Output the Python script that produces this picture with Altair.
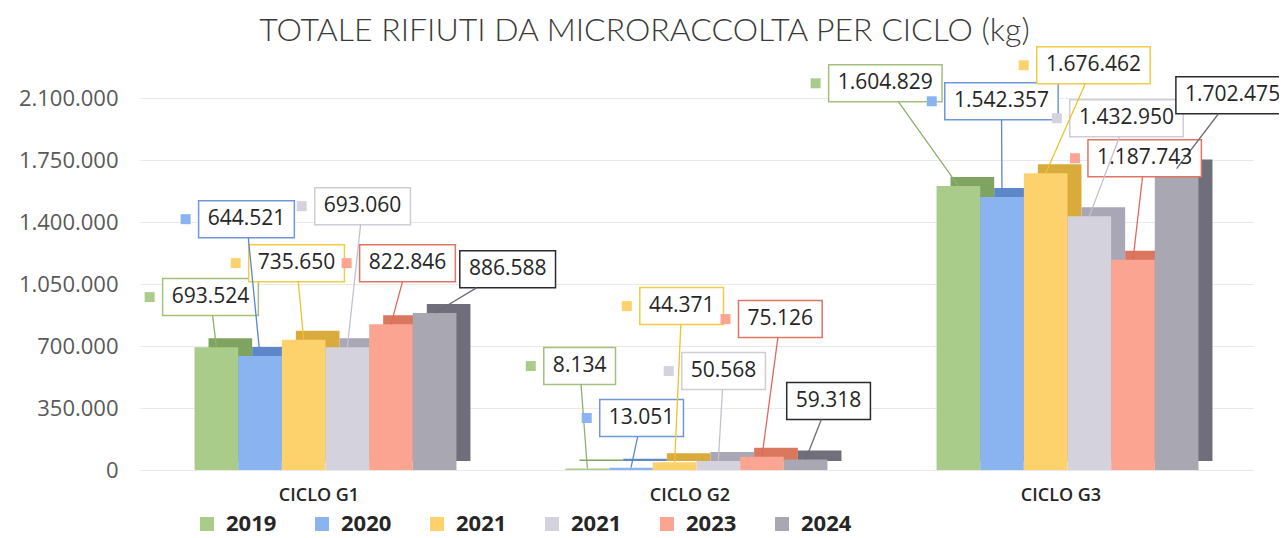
import altair as alt
import pandas as pd

# ---------------- data ----------------
cycles = ["CICLO G1", "CICLO G2", "CICLO G3"]
years = ["2019", "2020", "2021", "2021 ", "2023", "2024"]
g1_values = [693524, 644521, 735650, 693060, 822846, 886588]
g2_values = [8134, 13051, 44371, 50568, 75126, 59318]
g3_values = [1604829, 1542357, 1676462, 1432950, 1187743, 1702475]
y_ticks = [0, 350000, 700000, 1050000, 1400000, 1750000, 2100000]

# callout label centres (x in cycle units, y in kg), as placed in the original
label_x = [[0.190, 0.287, 0.422, 0.600, 0.721, 0.991],
           [1.185, 1.352, 1.460, 1.573, 1.726, 1.856],
           [2.009, 2.322, 2.570, 2.659, 2.708, 2.945]]
label_y = [[976600, 1416900, 1168500, 1490300, 1168500, 1134600],
           [587100, 293500, 925800, 558900, 852400, 389500],
           [2184600, 2083000, 2286200, 1987000, 1761200, 2116900]]

# ---------------- styles ----------------
fill_colors = ["#a9cc8a", "#8ab4f0", "#fdd26c", "#d4d2dc", "#fba491", "#a9a8b2"]
depth_colors = ["#7fa360", "#5d87c9", "#d9aa3c", "#a9a7b5", "#d9775f", "#6f6e7a"]
border_colors = ["#a3c07c", "#6f97da", "#f1cc45", "#cfcdd6", "#e07566", "#2b2b2b"]
leader_colors = ["#8fb06c", "#5b86d0", "#efc32a", "#c3c1cd", "#e06a5a", "#6b6b73"]

W, H, YMAX = 1113, 393, 2220000
PXU = W / 3.0          # pixels per cycle unit
PXV = H / YMAX         # pixels per kg
PAD_OUTER = 0.147
BAR_W = 0.706 / 6
FS = 21
BOX_H = 37


def fmt(v):
    return f"{v:,}".replace(",", ".")


rows = []
all_values = [g1_values, g2_values, g3_values]
for gi, cyc in enumerate(cycles):
    for i, yr in enumerate(years):
        v = all_values[gi][i]
        x0 = gi + PAD_OUTER + i * BAR_W
        x1 = x0 + BAR_W
        xc = (x0 + x1) / 2
        txt = fmt(v)
        ndig = sum(c.isdigit() for c in txt)
        ndot = txt.count(".")
        bw_px = ndig * 0.572 * FS + ndot * 0.27 * FS + 18
        lx, ly = label_x[gi][i], label_y[gi][i]
        # leader from box edge to bar top (computed in pixel space)
        cx, cy = lx * PXU, ly * PXV
        ax, ay = xc * PXU, v * PXV
        dx, dy = ax - cx, ay - cy
        tx = (bw_px / 2) / abs(dx) if dx != 0 else 1e9
        ty = (BOX_H / 2) / abs(dy) if dy != 0 else 1e9
        t = min(tx, ty)
        sx, sy = cx + t * dx, cy + t * dy
        rows.append(dict(
            cycle=cyc, year=yr, value=v, x0=x0, x1=x1, xc=xc,
            lx=lx, ly=ly, text=txt,
            bx0=lx - bw_px / 2 / PXU, bx1=lx + bw_px / 2 / PXU,
            by0=ly - BOX_H / 2 / PXV, by1=ly + BOX_H / 2 / PXV,
            sqx=lx - (bw_px / 2 + 13) / PXU,
            lsx=sx / PXU, lsy=sy / PXV,
            depth=depth_colors[i], border=border_colors[i],
            leader=leader_colors[i], square=(i != 5),
        ))
df = pd.DataFrame(rows)

x_scale = alt.Scale(domain=[0, 3], nice=False, zero=False)
y_scale = alt.Scale(domain=[0, YMAX], nice=False)
color_scale = alt.Scale(domain=years, range=fill_colors)

label_shift = 7 / PXU
x_axis = alt.Axis(
    values=[0.5 - label_shift, 1.5 - label_shift, 2.5 - label_shift],
    labelExpr="[" + ",".join(f"'{c}'" for c in cycles) + "][floor(datum.value)]",
    grid=False, domain=False, ticks=False, title=None,
    labelFont="Open Sans", labelFontSize=18, labelFontWeight=600,
    labelColor="#262626", labelPadding=16,
)
y_axis = alt.Axis(
    values=y_ticks,
    labelExpr="replace(format(datum.value, ','), /,/g, '.')",
    grid=True, gridColor="#e9e9e9", gridWidth=1,
    domain=False, ticks=False, title=None,
    labelFont="Open Sans", labelFontSize=22, labelColor="#595959",
    labelPadding=22,
)

base = alt.Chart(df)

depth = base.mark_bar(xOffset=14, x2Offset=14, yOffset=-9, y2Offset=-9).encode(
    x=alt.X("x0:Q", scale=x_scale, axis=x_axis),
    x2="x1:Q",
    y=alt.Y("value:Q", scale=y_scale, axis=y_axis),
    y2=alt.datum(0),
    fill=alt.Fill("depth:N", scale=None),
)

front = base.mark_bar().encode(
    x=alt.X("x0:Q", scale=x_scale, axis=x_axis),
    x2="x1:Q",
    y=alt.Y("value:Q", scale=y_scale, axis=y_axis),
    y2=alt.datum(0),
    color=alt.Color(
        "year:N", scale=color_scale, sort=years,
        legend=alt.Legend(
            orient="none", legendX=56, legendY=436, direction="horizontal",
            title=None, symbolType="square", symbolSize=196,
            symbolStrokeWidth=0, labelFont="Open Sans", labelFontSize=22,
            labelFontWeight="bold", labelColor="#262626", columnPadding=34,
            labelOffset=8,
        ),
    ),
)

boxes = base.mark_rect(fill="white", strokeWidth=1.5).encode(
    x=alt.X("bx0:Q", scale=x_scale, axis=x_axis),
    x2="bx1:Q",
    y=alt.Y("by0:Q", scale=y_scale, axis=y_axis),
    y2="by1:Q",
    stroke=alt.Stroke("border:N", scale=None),
)

leaders = base.mark_rule(strokeWidth=1.3).encode(
    x=alt.X("lsx:Q", scale=x_scale, axis=x_axis),
    x2="xc:Q",
    y=alt.Y("lsy:Q", scale=y_scale, axis=y_axis),
    y2="value:Q",
    stroke=alt.Stroke("leader:N", scale=None),
)

squares = base.transform_filter("datum.square").mark_square(size=100, opacity=1).encode(
    x=alt.X("sqx:Q", scale=x_scale, axis=x_axis),
    y=alt.Y("ly:Q", scale=y_scale, axis=y_axis),
    color=alt.Color("year:N", scale=color_scale, legend=None),
)

texts = base.mark_text(font="Open Sans", fontSize=FS, color="#262626").encode(
    x=alt.X("lx:Q", scale=x_scale, axis=x_axis),
    y=alt.Y("ly:Q", scale=y_scale, axis=y_axis),
    text="text:N",
)

chart = alt.layer(depth, front, boxes, leaders, squares, texts).properties(
    width=W, height=H,
    padding={"left": 132, "top": 69, "right": 26, "bottom": 68},
    autosize=alt.AutoSizeParams(type="none"),
    background="white",
    title=alt.TitleParams(
        text="TOTALE RIFIUTI DA MICRORACCOLTA PER CICLO (kg)",
        font="Lato", fontSize=32, fontWeight=300, color="#3a3a3a",
        anchor="middle", frame="group", offset=-2, dx=-52,
    ),
).configure_view(stroke=None)

chart.save("out.html", embed_options={"renderer": "svg", "actions": False})
